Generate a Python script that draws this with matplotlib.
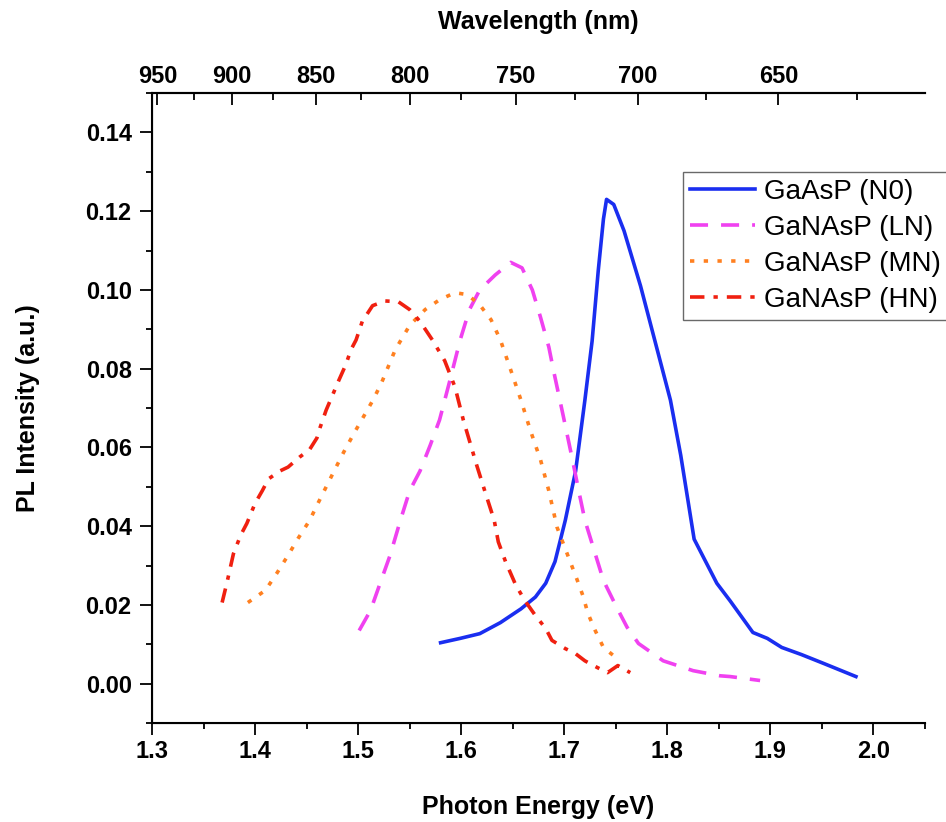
import numpy as np
import matplotlib.pyplot as plt
from matplotlib.ticker import MultipleLocator, FixedLocator

plt.rcParams['font.family'] = ['Liberation Sans', 'DejaVu Sans']

# GaAsP (N0)
n0_e = [1.580, 1.599, 1.618, 1.638, 1.658, 1.672, 1.682, 1.691, 1.701, 1.711,
        1.720, 1.727, 1.733, 1.738, 1.741, 1.748, 1.758, 1.774, 1.789, 1.803,
        1.813, 1.826, 1.848, 1.861, 1.883, 1.897, 1.911, 1.930, 1.952, 1.983]
n0_i = [0.0104, 0.0115, 0.0127, 0.0155, 0.019, 0.022, 0.0255, 0.031, 0.0415, 0.054,
        0.072, 0.087, 0.105, 0.118, 0.123, 0.1217, 0.115, 0.101, 0.086, 0.072,
        0.058, 0.0367, 0.0255, 0.021, 0.013, 0.0115, 0.0092, 0.0074, 0.0051, 0.0018]

# GaNAsP (LN)
ln_e = [1.501, 1.512, 1.522, 1.531, 1.541, 1.550, 1.560, 1.570, 1.579, 1.589,
        1.599, 1.608, 1.618, 1.633, 1.648, 1.659, 1.669, 1.677, 1.685, 1.690,
        1.699, 1.708, 1.714, 1.720, 1.730, 1.738, 1.751, 1.761, 1.772, 1.796,
        1.825, 1.851, 1.861, 1.890]
ln_i = [0.0135, 0.0186, 0.026, 0.0326, 0.0415, 0.049, 0.054, 0.0606, 0.067, 0.077,
        0.0873, 0.095, 0.100, 0.1038, 0.107, 0.1056, 0.100, 0.093, 0.0855, 0.079,
        0.068, 0.0568, 0.049, 0.0415, 0.033, 0.0262, 0.0193, 0.0143, 0.0102, 0.0058,
        0.0033, 0.002, 0.0018, 0.0008]

# GaNAsP (MN)
mn_e = [1.393, 1.410, 1.421, 1.432, 1.442, 1.453, 1.461, 1.469, 1.478, 1.486,
        1.496, 1.505, 1.515, 1.523, 1.536, 1.550, 1.565, 1.579, 1.594, 1.606,
        1.618, 1.629, 1.638, 1.648, 1.658, 1.667, 1.677, 1.685, 1.693, 1.699,
        1.706, 1.712, 1.718, 1.723, 1.730, 1.738, 1.754]
mn_i = [0.0206, 0.0237, 0.028, 0.0326, 0.037, 0.0415, 0.0458, 0.050, 0.0547, 0.0588,
        0.0636, 0.0677, 0.0723, 0.0766, 0.0848, 0.091, 0.095, 0.0975, 0.0993, 0.0988,
        0.0962, 0.0924, 0.0873, 0.0797, 0.072, 0.0644, 0.0568, 0.049, 0.0397, 0.0356,
        0.0308, 0.0267, 0.0224, 0.0178, 0.0135, 0.0092, 0.0058]

# GaNAsP (HN)
hn_e = [1.368, 1.373, 1.379, 1.386, 1.392, 1.400, 1.407, 1.413, 1.424, 1.432,
        1.443, 1.453, 1.460, 1.463, 1.469, 1.476, 1.480, 1.488, 1.493, 1.498,
        1.504, 1.514, 1.526, 1.539, 1.550, 1.560, 1.572, 1.584, 1.594, 1.602,
        1.615, 1.624, 1.632, 1.636, 1.643, 1.653, 1.662, 1.672, 1.682, 1.688,
        1.701, 1.711, 1.720, 1.732, 1.742, 1.752, 1.764]
hn_i = [0.0206, 0.026, 0.033, 0.0377, 0.0407, 0.0458, 0.049, 0.052, 0.054, 0.055,
        0.0575, 0.0595, 0.0624, 0.065, 0.0695, 0.0738, 0.0763, 0.081, 0.0848, 0.0873,
        0.092, 0.096, 0.0972, 0.097, 0.095, 0.092, 0.0873, 0.082, 0.0753, 0.067,
        0.0555, 0.048, 0.0415, 0.036, 0.031, 0.025, 0.021, 0.0173, 0.014, 0.011,
        0.0089, 0.0076, 0.0058, 0.0041, 0.0028, 0.0046, 0.0028]

wl_major = [950, 900, 850, 800, 750, 700, 650]
wl_minor = [925, 875, 825, 775, 725, 675, 625]

fig = plt.figure(figsize=(9.46, 8.22), dpi=100)
ax = fig.add_axes([0.1607, 0.1204, 0.8171, 0.7664])

lw = 2.6
ax.plot(n0_e, n0_i, color='#1a2ef0', lw=lw, label='GaAsP (N0)')
ax.plot(ln_e, ln_i, color='#f041f0', lw=lw, ls=(0, (5, 3.6)), label='GaNAsP (LN)')
ax.plot(mn_e, mn_i, color='#ff8020', lw=lw, ls=(0, (1.2, 2.6)), label='GaNAsP (MN)')
ax.plot(hn_e, hn_i, color='#f02010', lw=lw, ls=(0, (4, 2.5, 1.2, 2.5)), label='GaNAsP (HN)')

ax.set_xlim(1.3, 2.05)
ax.set_ylim(-0.01, 0.15)
ax.xaxis.set_major_locator(MultipleLocator(0.1))
ax.xaxis.set_minor_locator(MultipleLocator(0.05))
ax.yaxis.set_major_locator(FixedLocator(np.arange(0, 0.141, 0.02)))
ax.yaxis.set_minor_locator(FixedLocator(np.arange(-0.01, 0.151, 0.02)))
ax.xaxis.set_major_formatter(plt.FuncFormatter(lambda v, p: f'{v:.1f}'))
ax.yaxis.set_major_formatter(plt.FuncFormatter(lambda v, p: f'{v:.2f}'))

for sp in ['top', 'bottom', 'left']:
    ax.spines[sp].set_linewidth(1.5)
ax.spines['right'].set_visible(False)
ax.tick_params(which='both', direction='out', width=1.3, labelsize=17)
ax.tick_params(axis='x', pad=3.5)
ax.tick_params(axis='y', pad=6)
ax.tick_params(which='major', length=8.6)
ax.tick_params(which='minor', length=4.3)
for t in ax.get_xticklabels() + ax.get_yticklabels():
    t.set_fontweight('bold')

ax.set_xlabel('Photon Energy (eV)', fontsize=18, fontweight='bold', labelpad=23)
ax.set_ylabel('PL Intensity (a.u.)', fontsize=18, fontweight='bold', labelpad=33)

ax2 = ax.twiny()
ax2.set_xlim(ax.get_xlim())
ax2.set_xticks(1240 / np.array(wl_major))
ax2.set_xticklabels([str(w) for w in wl_major], fontweight='bold')
ax2.set_xticks(1240 / np.array(wl_minor), minor=True)
ax2.spines['right'].set_visible(False)
ax2.spines['top'].set_linewidth(1.5)
ax2.tick_params(which='both', direction='in', width=1.3, labelsize=17, pad=3.4)
ax2.tick_params(which='major', length=8.6)
ax2.tick_params(which='minor', length=4.8)
ax2.set_xlabel('Wavelength (nm)', fontsize=18, fontweight='bold', labelpad=26)

leg = ax.legend(loc='upper left', bbox_to_anchor=(0.722, 0.791),
                bbox_transform=fig.transFigure, fontsize=20, frameon=True,
                fancybox=False, edgecolor='#444444', handlelength=2.35,
                handletextpad=0.3, labelspacing=0.36, borderpad=0.25,
                borderaxespad=0)
leg.get_frame().set_linewidth(1.0)

fig.savefig('out.png', dpi=100)
